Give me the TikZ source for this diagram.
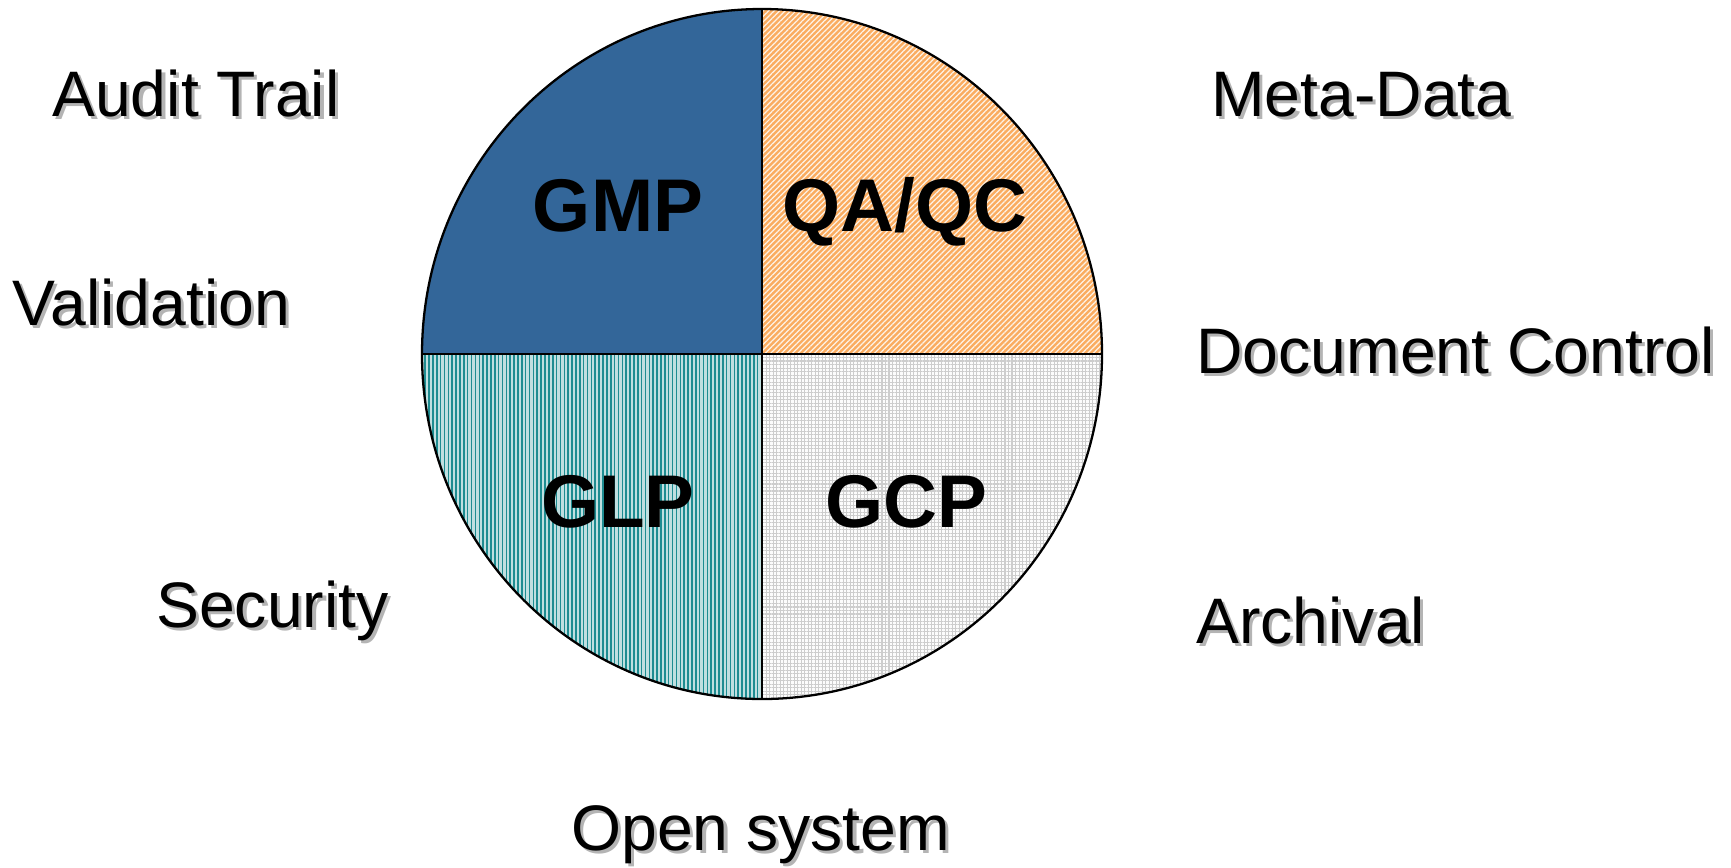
\documentclass[tikz,border=0pt]{standalone}
\usepackage{fontspec}
\setmainfont{Liberation Sans}
\usetikzlibrary{patterns.meta}

\definecolor{gmpblue}{RGB}{51,102,153}
\definecolor{qaorange}{RGB}{250,172,96}
\definecolor{glpteal}{RGB}{30,140,145}
\definecolor{gcpgrid}{RGB}{205,205,205}
\definecolor{shadowgray}{RGB}{180,180,180}

\newcommand{\shadowed}[1]{\makebox[0pt][l]{\hspace{1.8pt}\raisebox{-1.8pt}{\textcolor{shadowgray}{#1}}}#1}

\tikzset{
  topic/.style={inner sep=0pt, anchor=base west, font=\fontsize{36.6}{40}\selectfont},
  field/.style={inner sep=0pt, anchor=base, font=\fontsize{42.5}{46}\selectfont\bfseries},
  slice/.style={draw=black, line width=1.3pt, line join=round},
}

\begin{document}
\begin{tikzpicture}[x=0.02cm,y=-0.02cm]
\useasboundingbox[fill=white] (0,0) rectangle (1731,867);
\def\radX{340}
\def\radY{345}
\coordinate (c) at (762,354);
% the four quarters
\path[fill=gmpblue] (c) -- ++(-\radX,0)
  arc[start angle=180,end angle=270,x radius=\radX,y radius=\radY] -- cycle;
\path[fill=qaorange,%
      postaction={pattern={Lines[angle=45,distance=2.2pt,line width=0.7pt]},pattern color=white!85!qaorange}]
  (c) -- ++(0,-\radY)
  arc[start angle=270,end angle=360,x radius=\radX,y radius=\radY] -- cycle;
\path[fill=white!72!glpteal,%
      postaction={pattern={Lines[angle=90,distance=2.2pt,line width=0.9pt]},pattern color=glpteal}]
  (c) -- ++(0,\radY)
  arc[start angle=90,end angle=180,x radius=\radX,y radius=\radY] -- cycle;
\path[fill=white!95!gcpgrid,%
      postaction={pattern={Hatch[angle=0,distance=2pt,line width=0.6pt]},pattern color=gcpgrid}]
  (c) -- ++(\radX,0)
  arc[start angle=0,end angle=90,x radius=\radX,y radius=\radY] -- cycle;
\draw[slice] (c) ellipse[x radius=\radX,y radius=\radY];
\draw[slice] (c) ++(-\radX,0) -- ++(2*\radX,0);
\draw[slice] (c) ++(0,-\radY) -- ++(0,2*\radY);
% quarter labels
\node[field] (gmp) at (618,231) {GMP};
\node[field] (qaqc) at (905,231) {QA/QC};
\node[field] (glp) at (618,527) {GLP};
\node[field] (gcp) at (906,527) {GCP};
% topics round the circle
\node[topic] (audit) at (52,116) {\shadowed{Audit Trail}};
\node[topic] (valid) at (12,325) {\shadowed{Validation}};
\node[topic] (secur) at (156,627) {\shadowed{Security}};
\node[topic] (open) at (571,850) {\shadowed{Open system}};
\node[topic] (meta) at (1211,116) {\shadowed{Meta-Data}};
\node[topic] (docctl) at (1196,373) {\shadowed{Document Control}};
\node[topic] (archiv) at (1196,643) {\shadowed{Archival}};
\end{tikzpicture}
\end{document}
